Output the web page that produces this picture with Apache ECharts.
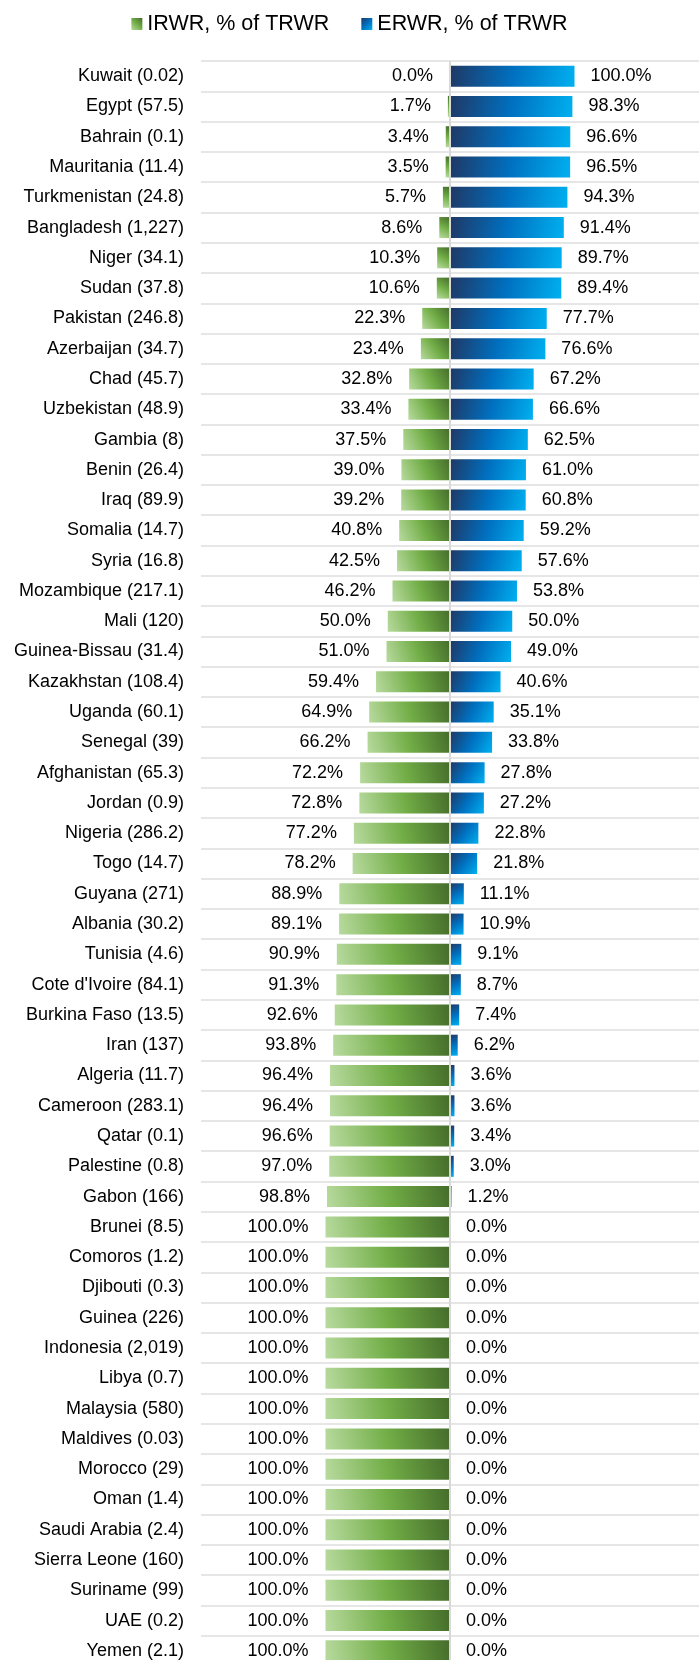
<!DOCTYPE html>
<html>
<head>
<meta charset="utf-8">
<style>
  html, body { margin: 0; padding: 0; background: #fff; overflow: hidden; }
  /* 图比窗口略高, 最后一行被截掉一点, 和原图一样 */
  #main { width: 699px; height: 1666px; }
</style>
<script src="https://cdn.jsdelivr.net/npm/echarts@6/dist/echarts.min.js"></script>
</head>
<body>
<div id="main"></div>
<script>
// 国家 (括号里是 TRWR)
const countries = [
  "Kuwait (0.02)", "Egypt (57.5)", "Bahrain (0.1)", "Mauritania (11.4)", "Turkmenistan (24.8)",
  "Bangladesh (1,227)", "Niger (34.1)", "Sudan (37.8)", "Pakistan (246.8)", "Azerbaijan (34.7)",
  "Chad (45.7)", "Uzbekistan (48.9)", "Gambia (8)", "Benin (26.4)", "Iraq (89.9)",
  "Somalia (14.7)", "Syria (16.8)", "Mozambique (217.1)", "Mali (120)", "Guinea-Bissau (31.4)",
  "Kazakhstan (108.4)", "Uganda (60.1)", "Senegal (39)", "Afghanistan (65.3)", "Jordan (0.9)",
  "Nigeria (286.2)", "Togo (14.7)", "Guyana (271)", "Albania (30.2)", "Tunisia (4.6)",
  "Cote d'Ivoire (84.1)", "Burkina Faso (13.5)", "Iran (137)", "Algeria (11.7)", "Cameroon (283.1)",
  "Qatar (0.1)", "Palestine (0.8)", "Gabon (166)", "Brunei (8.5)", "Comoros (1.2)",
  "Djibouti (0.3)", "Guinea (226)", "Indonesia (2,019)", "Libya (0.7)", "Malaysia (580)",
  "Maldives (0.03)", "Morocco (29)", "Oman (1.4)", "Saudi Arabia (2.4)", "Sierra Leone (160)",
  "Suriname (99)", "UAE (0.2)", "Yemen (2.1)"
];

// IRWR, % of TRWR
const irwr = [
  0.0, 1.7, 3.4, 3.5, 5.7, 8.6, 10.3, 10.6, 22.3, 23.4,
  32.8, 33.4, 37.5, 39.0, 39.2, 40.8, 42.5, 46.2, 50.0, 51.0,
  59.4, 64.9, 66.2, 72.2, 72.8, 77.2, 78.2, 88.9, 89.1, 90.9,
  91.3, 92.6, 93.8, 96.4, 96.4, 96.6, 97.0, 98.8, 100.0, 100.0,
  100.0, 100.0, 100.0, 100.0, 100.0, 100.0, 100.0, 100.0, 100.0, 100.0,
  100.0, 100.0, 100.0
];

// ERWR, % of TRWR
const erwr = [
  100.0, 98.3, 96.6, 96.5, 94.3, 91.4, 89.7, 89.4, 77.7, 76.6,
  67.2, 66.6, 62.5, 61.0, 60.8, 59.2, 57.6, 53.8, 50.0, 49.0,
  40.6, 35.1, 33.8, 27.8, 27.2, 22.8, 21.8, 11.1, 10.9, 9.1,
  8.7, 7.4, 6.2, 3.6, 3.6, 3.4, 3.0, 1.2, 0.0, 0.0,
  0.0, 0.0, 0.0, 0.0, 0.0, 0.0, 0.0, 0.0, 0.0, 0.0,
  0.0, 0.0, 0.0
];

const seriesNames = ["IRWR, % of TRWR", "ERWR, % of TRWR"];

// 渐变色
const greenFill = new echarts.graphic.LinearGradient(0, 1, 1, 0, [
  { offset: 0, color: '#b8da9f' },
  { offset: 0.5, color: '#72ae47' },
  { offset: 1, color: '#456d2b' }
]);
const blueFill = new echarts.graphic.LinearGradient(0, 0, 1, 1, [
  { offset: 0, color: '#203864' },
  { offset: 0.5, color: '#0070c0' },
  { offset: 1, color: '#00b0f0' }
]);

function pct(p) {
  return Math.abs(p.value).toFixed(1) + '%';
}

const chart = echarts.init(document.getElementById('main'));

var option = {
  animation: false,
  textStyle: { fontFamily: 'Liberation Sans, Arial, sans-serif' },
  legend: {
    top: 13,
    left: 'center',
    padding: 0,
    itemWidth: 11,
    itemHeight: 12,
    itemGap: 32,
    icon: 'rect',
    textStyle: { fontSize: 21.5, color: '#000' },
    data: seriesNames
  },
  grid: { left: 201, right: 0, top: 61, bottom: 0 },
  xAxis: {
    type: 'value',
    min: -200,
    max: 200,
    show: false
  },
  yAxis: {
    type: 'category',
    inverse: true,
    data: countries,
    axisLine: { show: false },
    axisTick: { show: false },
    axisLabel: { fontSize: 18, color: '#000', margin: 17 },
    splitLine: { show: true, lineStyle: { color: '#dedede', width: 1.5 } }
  },
  series: [
    {
      name: seriesNames[0],
      type: 'bar',
      barWidth: 21,
      barGap: '-100%',
      itemStyle: { color: greenFill },
      label: { show: true, position: 'left', distance: 17, fontSize: 18, color: '#000', formatter: pct },
      data: irwr.map(v => -v),
      markLine: {
        silent: true,
        symbol: 'none',
        label: { show: false },
        lineStyle: { color: '#d9d9d9', width: 2, type: 'solid' },
        data: [{ xAxis: 0 }]
      }
    },
    {
      name: seriesNames[1],
      type: 'bar',
      barWidth: 21,
      itemStyle: { color: blueFill },
      label: { show: true, position: 'right', distance: 16, fontSize: 18, color: '#000', formatter: pct },
      data: erwr
    }
  ]
};

chart.setOption(option);
</script>
</body>
</html>
